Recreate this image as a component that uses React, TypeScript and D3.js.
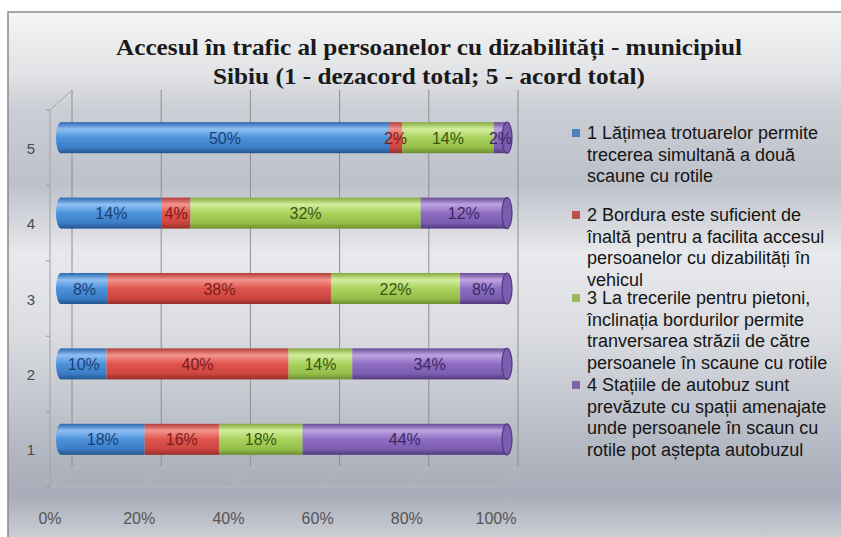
import React, { useEffect, useRef } from 'react';
import * as d3 from 'd3';

// data (labels are the raw shares, bars are 100% stacked)
const categories = ['1', '2', '3', '4', '5'];
const seriesNames = ['s1', 's2', 's3', 's4'];
const blueValues = [18, 10, 8, 14, 50];
const redValues = [16, 40, 38, 4, 2];
const greenValues = [18, 14, 22, 32, 14];
const purpleValues = [44, 34, 8, 12, 2];
const xTicks = [0, 0.2, 0.4, 0.6, 0.8, 1];
const titleLines = [
  'Accesul în trafic al persoanelor cu dizabilități - municipiul',
  'Sibiu (1 - dezacord total; 5 - acord total)',
];
const legendLines = [
  ['1 Lățimea trotuarelor permite', 'trecerea simultană a două', 'scaune cu rotile'],
  ['2 Bordura este suficient de', 'înaltă pentru a facilita accesul', 'persoanelor cu dizabilități în', 'vehicul'],
  ['3 La trecerile pentru pietoni,', 'înclinația bordurilor permite', 'tranversarea străzii  de către', 'persoanele în scaune cu rotile'],
  ['4 Stațiile de autobuz sunt', 'prevăzute cu spații amenajate', 'unde persoanele în scaun cu', 'rotile pot aștepta autobuzul'],
];

// styles
const markerColors = ['#4F81BD', '#C0504D', '#9BBB59', '#8064A2'];
const labelColors = ['#1B3F73', '#7A1C1A', '#3A5614', '#3B2862'];
const cylStops = [
  ['#2C66AE', '#8FC0F2', '#4C93DC', '#3C7CC6', '#23558F'],
  ['#B23C38', '#F3948E', '#E1544E', '#CB4540', '#962D29'],
  ['#84AA3C', '#D4ED9E', '#A9D35D', '#94BE49', '#6B8D2E'],
  ['#674996', '#BDA4E0', '#8E6DC3', '#7B5CAF', '#52387E'],
];
const bgStops: [number, string][] = [
  [0, '#F6F6F6'], [0.12, '#E0E1E4'], [0.18, '#CBCED5'], [0.32, '#BDC1CA'],
  [0.45, '#E8E9EC'], [0.6, '#DADCE1'], [0.84, '#AEB3BE'], [0.9, '#A8ADB9'], [1, '#D6D7DC'],
];

const App = () => {
  const chartRef = useRef<SVGSVGElement>(null);

  useEffect(() => {
    const svg = d3.select(chartRef.current);
    svg.selectAll('*').remove();

    const width = 841;
    const height = 537;
    const DX = 22;
    const DY = -20;
    const barH = 31;

    const defs = svg.append('defs');
    const bg = defs.append('linearGradient').attr('id', 'bg')
      .attr('x1', 0).attr('y1', 0).attr('x2', 0).attr('y2', 1);
    bgStops.forEach(([o, c]) => bg.append('stop').attr('offset', o).attr('stop-color', c));

    cylStops.forEach((stops, i) => {
      const g = defs.append('linearGradient').attr('id', `cyl${i}`)
        .attr('x1', 0).attr('y1', 0).attr('x2', 0).attr('y2', 1);
      [0, 0.22, 0.5, 0.82, 1].forEach((o, j) =>
        g.append('stop').attr('offset', o).attr('stop-color', stops[j]));
    });

    // chart frame
    svg.append('rect')
      .attr('x', 8).attr('y', 12)
      .attr('width', width).attr('height', height)
      .attr('fill', 'url(#bg)')
      .attr('stroke', '#8a8a8a').attr('stroke-width', 1.5);

    // title
    const titleWidths = [626, 432];
    svg.selectAll('.title').data(titleLines).enter()
      .append('text')
      .attr('class', 'title')
      .attr('x', 429)
      .attr('y', (d, i) => 55 + i * 29)
      .attr('text-anchor', 'middle')
      .attr('textLength', (d, i) => titleWidths[i])
      .attr('lengthAdjust', 'spacingAndGlyphs')
      .style('font-family', '"Liberation Serif", serif')
      .style('font-weight', 'bold')
      .style('font-size', '23px')
      .style('fill', '#1a1a1a')
      .text(d => d);

    const x = d3.scaleLinear().domain([0, 1]).range([50, 496]);
    const y = d3.scaleBand<string>()
      .domain(categories.slice().reverse())
      .range([110, 487]);

    const [top, bottom] = y.range();
    const chart = svg.append('g');

    // back wall gridlines
    chart.selectAll('.grid').data(xTicks).enter()
      .append('line')
      .attr('x1', d => x(d) + DX).attr('x2', d => x(d) + DX)
      .attr('y1', top + DY).attr('y2', bottom + DY)
      .attr('stroke', '#8e8e8e').attr('stroke-width', 1);

    // side wall
    const wall = [
      [x(0), top, x(0), bottom],
      [x(0), top, x(0) + DX, top + DY],
    ];
    chart.selectAll('.wall').data(wall).enter()
      .append('line')
      .attr('x1', d => d[0]).attr('y1', d => d[1])
      .attr('x2', d => d[2]).attr('y2', d => d[3])
      .attr('stroke', '#a2a2a2').attr('stroke-width', 1);

    // vertical axis ticks
    const bounds = d3.range(categories.length + 1).map(i => top + i * y.step());
    chart.selectAll('.ytick').data(bounds).enter()
      .append('line')
      .attr('x1', x(0) - 4).attr('x2', x(0))
      .attr('y1', d => d).attr('y2', d => d)
      .attr('stroke', '#9a9a9a');

    // floor
    const floor = chart.append('g').attr('stroke', '#b4b8c0').attr('stroke-width', 1);
    floor.append('line')
      .attr('x1', x(0)).attr('x2', x(1)).attr('y1', bottom).attr('y2', bottom);
    floor.append('line')
      .attr('x1', x(0) + DX).attr('x2', x(1) + DX).attr('y1', bottom + DY).attr('y2', bottom + DY);
    floor.selectAll('.ft').data(xTicks).enter()
      .append('line')
      .attr('x1', d => x(d)).attr('y1', bottom + 3)
      .attr('x2', d => x(d) + DX).attr('y2', bottom + DY);

    // category labels
    chart.selectAll('.ylab').data(categories).enter()
      .append('text')
      .attr('x', 31)
      .attr('y', d => (y(d) as number) + y.bandwidth() / 2 + 6)
      .attr('text-anchor', 'middle')
      .style('font-family', '"Liberation Sans", Arial, sans-serif')
      .style('font-size', '15px')
      .style('fill', '#4a4a4a')
      .text(d => d);

    // x tick labels
    chart.selectAll('.xlab').data(xTicks).enter()
      .append('text')
      .attr('x', d => x(d))
      .attr('y', 524)
      .attr('text-anchor', 'middle')
      .style('font-family', '"Liberation Sans", Arial, sans-serif')
      .style('font-size', '16px')
      .style('fill', '#555')
      .text(d => d3.format('.0%')(d));

    // stacked cylinders
    const rows = categories.map((c, i) => ({
      cat: c,
      s1: blueValues[i], s2: redValues[i], s3: greenValues[i], s4: purpleValues[i],
    }));
    const stacked = d3.stack<any>().keys(seriesNames).offset(d3.stackOffsetExpand)(rows);
    const yc = (cat: string) => (y(cat) as number) + y.bandwidth() / 2 + DY / 2;
    const bx = (v: number) => x(v) + DX / 2;
    const last = stacked.length - 1;

    // left rounded ends
    chart.selectAll('.lcap').data(stacked[0]).enter()
      .append('ellipse')
      .attr('cx', d => bx(d[0]))
      .attr('cy', d => yc(d.data.cat))
      .attr('rx', 5).attr('ry', barH / 2)
      .attr('fill', 'url(#cyl0)');

    stacked.forEach((layer, si) => {
      chart.selectAll(`.seg${si}`).data(layer).enter()
        .append('rect')
        .attr('x', d => bx(d[0]))
        .attr('y', d => yc(d.data.cat) - barH / 2)
        .attr('width', d => bx(d[1]) - bx(d[0]))
        .attr('height', barH)
        .attr('fill', `url(#cyl${si})`);
    });

    // right end faces
    chart.selectAll('.rcap').data(stacked[last]).enter()
      .append('ellipse')
      .attr('cx', d => bx(d[1]))
      .attr('cy', d => yc(d.data.cat))
      .attr('rx', 5).attr('ry', barH / 2)
      .attr('fill', cylStops[last][3])
      .attr('stroke', cylStops[last][4]).attr('stroke-width', 1.2);

    // data labels
    const values = [blueValues, redValues, greenValues, purpleValues];
    stacked.forEach((layer, si) => {
      chart.selectAll(`.lab${si}`).data(layer).enter()
        .append('text')
        .attr('x', d => (bx(d[0]) + bx(d[1])) / 2)
        .attr('y', d => yc(d.data.cat) + 6)
        .attr('text-anchor', 'middle')
        .style('font-family', '"Liberation Sans", Arial, sans-serif')
        .style('font-size', '16px')
        .style('fill', labelColors[si])
        .text((d, i) => `${values[si][i]}%`);
    });

    // legend
    const legendTops = [133, 215, 298, 385];
    const legend = svg.append('g');
    legendLines.forEach((lines, i) => {
      legend.append('rect')
        .attr('x', 572).attr('y', legendTops[i] - 4)
        .attr('width', 8).attr('height', 8)
        .attr('fill', markerColors[i]);
      legend.append('text')
        .style('font-family', '"Liberation Sans", Arial, sans-serif')
        .style('font-size', '18px')
        .style('fill', '#151515')
        .selectAll('tspan').data(lines).enter()
        .append('tspan')
        .attr('x', 587)
        .attr('y', (d, j) => legendTops[i] + 6 + j * 21.5)
        .text(d => d);
    });
  }, []);

  return (
    <div style={{ position: 'absolute', left: 0, top: 0 }}>
      <svg ref={chartRef} width={841} height={537} style={{ display: 'block' }}></svg>
    </div>
  );
};

export default App;
